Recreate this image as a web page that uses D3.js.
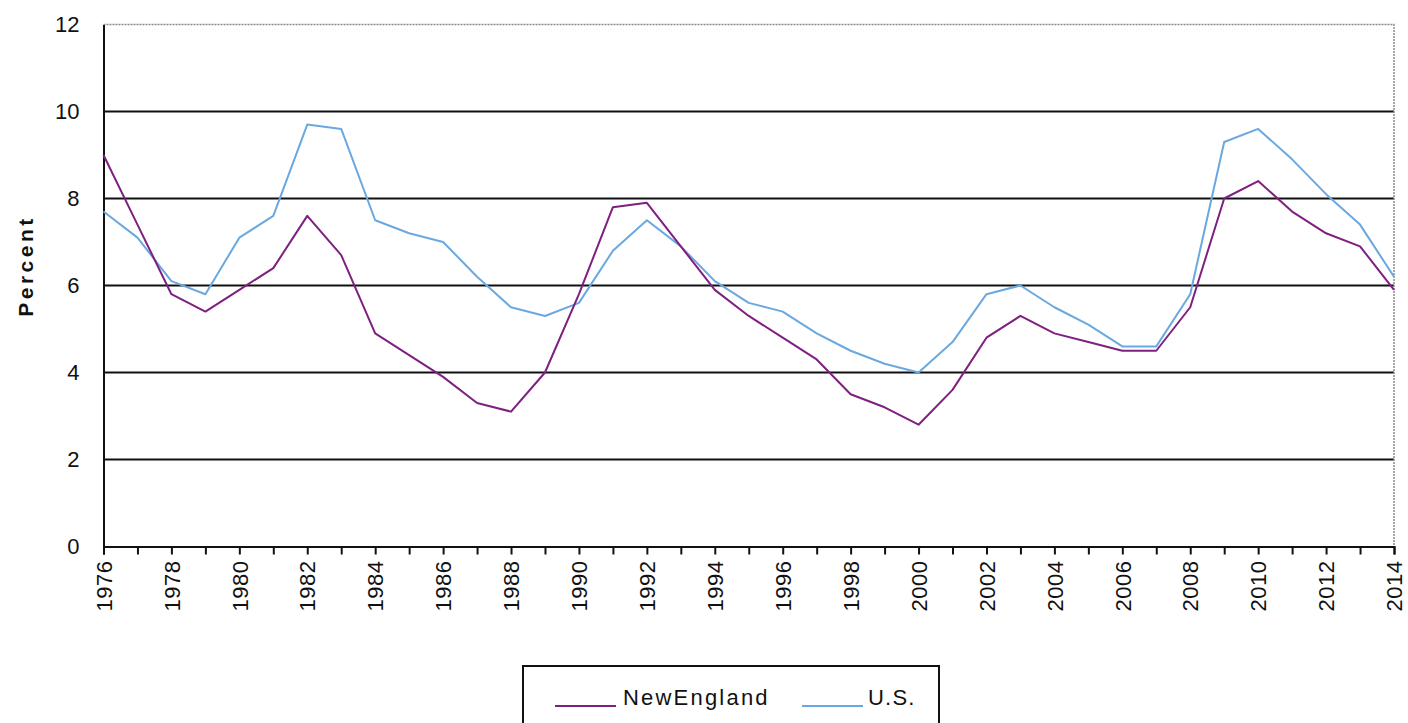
<!DOCTYPE html>
<html>
<head>
<meta charset="utf-8">
<script src="https://cdn.jsdelivr.net/npm/d3@7"></script>
<style>
  body { margin: 0; background: #fff; }
  svg { display: block; font-family: Arial, "Liberation Sans", sans-serif; }
</style>
</head>
<body>
<div id="chart"></div>
<script>
// unemployment rate, percent
const years = d3.range(1976, 2015)
const newEngland = [9.0, 7.4, 5.8, 5.4, 5.9, 6.4, 7.6, 6.7, 4.9, 4.4, 3.9, 3.3, 3.1, 4.0, 5.8, 7.8, 7.9, 6.9, 5.9, 5.3, 4.8, 4.3, 3.5, 3.2, 2.8, 3.6, 4.8, 5.3, 4.9, 4.7, 4.5, 4.5, 5.5, 8.0, 8.4, 7.7, 7.2, 6.9, 5.9]
const us = [7.7, 7.1, 6.1, 5.8, 7.1, 7.6, 9.7, 9.6, 7.5, 7.2, 7.0, 6.2, 5.5, 5.3, 5.6, 6.8, 7.5, 6.9, 6.1, 5.6, 5.4, 4.9, 4.5, 4.2, 4.0, 4.7, 5.8, 6.0, 5.5, 5.1, 4.6, 4.6, 5.8, 9.3, 9.6, 8.9, 8.1, 7.4, 6.2]
const yTicks = [0, 2, 4, 6, 8, 10, 12]
const seriesNames = ['NewEngland', 'U.S.']

const width = 1408, height = 723
const margin = {top: 24.5, right: 14, bottom: 176.5, left: 103.5}
const innerWidth = width - margin.left - margin.right
const innerHeight = height - margin.top - margin.bottom

const colors = {'NewEngland': '#7f1f7f', 'U.S.': '#6aa8e0'}

const svg = d3.select('#chart').append('svg')
  .attr('width', width)
  .attr('height', height)

const g = svg.append('g')
  .attr('transform', `translate(${margin.left},${margin.top})`)

const xScale = d3.scaleLinear()
  .domain([1976, 2014])
  .range([0, innerWidth])
const yScale = d3.scaleLinear()
  .domain([0, 12])
  .range([innerHeight, 0])

// gridlines
g.selectAll('.grid').data(yTicks.filter(d => d > 0 && d < 12))
  .join('line')
    .attr('x1', 0).attr('x2', innerWidth)
    .attr('y1', d => yScale(d)).attr('y2', d => yScale(d))
    .attr('stroke', '#111').attr('stroke-width', 2)

// top and right frame (dotted grey)
g.append('path')
  .attr('d', `M0,0H${innerWidth}V${innerHeight}`)
  .attr('fill', 'none')
  .attr('stroke', '#8a8a8a')
  .attr('stroke-width', 1.5)
  .attr('stroke-dasharray', '2,1')

// y axis
const yAxis = d3.axisLeft(yScale).tickValues(yTicks).tickSize(0).tickPadding(24)
const yG = g.append('g').call(yAxis)
yG.select('.domain').attr('stroke', '#111').attr('stroke-width', 2)
yG.selectAll('text')
  .style('font-size', '22px')
  .attr('fill', '#111')

// x axis: tick every year, label every other year
const xAxis = d3.axisBottom(xScale)
  .tickValues(years)
  .tickSize(8)
  .tickFormat(d => d)
const xG = g.append('g')
  .attr('transform', `translate(0,${innerHeight})`)
  .call(xAxis)
xG.select('.domain').attr('stroke', '#111').attr('stroke-width', 2)
xG.selectAll('.tick line').attr('stroke', '#111').attr('stroke-width', 2)
xG.selectAll('.tick text').filter(d => d % 2 !== 0).remove()
xG.selectAll('.tick text')
  .style('font-size', '22px')
  .style('letter-spacing', '0.5px')
  .attr('fill', '#111')
  .attr('transform', 'rotate(-90)')
  .attr('text-anchor', 'end')
  .attr('x', -14)
  .attr('y', 0)
  .attr('dy', '0.35em')

// y axis title
svg.append('text')
  .attr('transform', `translate(33,266) rotate(-90)`)
  .attr('text-anchor', 'middle')
  .style('font-size', '21px')
  .style('font-weight', 'bold')
  .style('letter-spacing', '3.5px')
  .attr('fill', '#111')
  .text('Percent')

// lines
const line = d3.line()
  .x((d, i) => xScale(years[i]))
  .y(d => yScale(d))

const seriesData = [
  {name: 'U.S.', values: us},
  {name: 'NewEngland', values: newEngland}
]
g.selectAll('.series').data(seriesData)
  .join('path')
    .attr('d', d => line(d.values))
    .attr('fill', 'none')
    .attr('stroke', d => colors[d.name])
    .attr('stroke-width', 2)
    .attr('stroke-linejoin', 'round')

// legend
const legend = svg.append('g')
legend.append('rect')
  .attr('x', 523).attr('y', 666)
  .attr('width', 416).attr('height', 70)
  .attr('fill', '#fff')
  .attr('stroke', '#111').attr('stroke-width', 2)

const legendItems = [
  {name: seriesNames[0], x: 555},
  {name: seriesNames[1], x: 802}
]
const items = legend.selectAll('.item').data(legendItems)
  .join('g')
    .attr('transform', d => `translate(${d.x},706)`)
items.append('line')
  .attr('x1', 0).attr('x2', 61)
  .attr('stroke', d => colors[d.name])
  .attr('stroke-width', 2)
items.append('text')
  .attr('x', d => d.name === 'U.S.' ? 66 : 68)
  .attr('y', -1)
  .style('font-size', '22px')
  .style('letter-spacing', d => d.name === 'U.S.' ? '1.2px' : '2.2px')
  .attr('fill', '#111')
  .text(d => d.name)
</script>
</body>
</html>
